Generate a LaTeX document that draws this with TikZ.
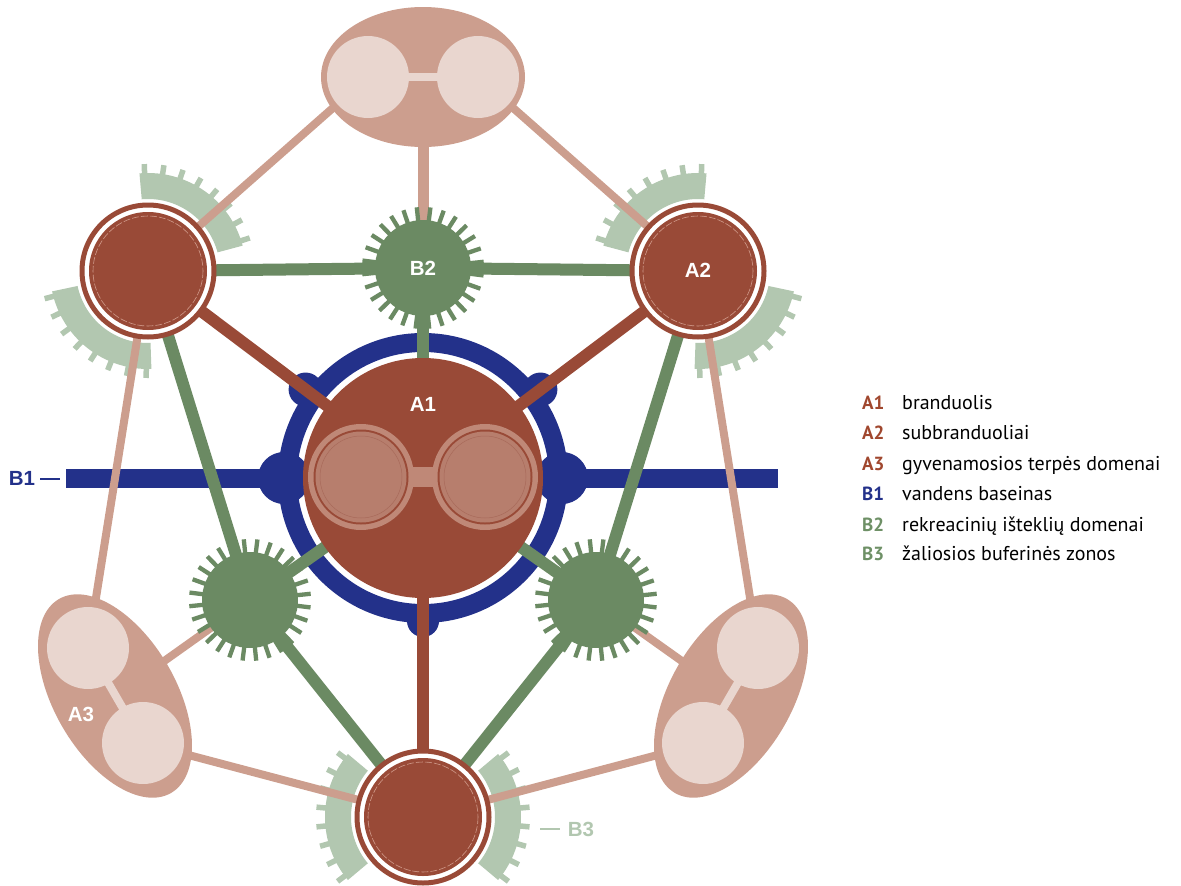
\documentclass[tikz,border=0pt]{standalone}
\usepackage{fontspec}
\setmainfont{Liberation Sans}
\newfontfamily\legfont{PT Sans}
\definecolor{brn}{HTML}{994A37}
\definecolor{pnk}{HTML}{CC9E8E}
\definecolor{lpnk}{HTML}{E9D6CF}
\definecolor{dgrn}{HTML}{6B8A63}
\definecolor{lgrn}{HTML}{B2C7B0}
\definecolor{nvy}{HTML}{23318A}
\definecolor{a1in}{HTML}{B77E6D}
\definecolor{a1ring}{HTML}{BF8877}
\definecolor{a1line}{HTML}{A86A5A}
\definecolor{dashc}{HTML}{D09A8A}
\definecolor{legA}{HTML}{A0472E}
\definecolor{legB}{HTML}{6E9066}
\newcommand\combarc[3]{%
  \fill[lgrn] (#1) ++(#2:72) arc[start angle=#2, end angle=#3, radius=72] -- ++(#3:26)
     arc[start angle=#3, end angle=#2, radius=98] -- cycle;
  \foreach \k in {0,...,7}{
    \draw[lgrn, line width=5.5] (#1) ++({#2+3+\k*(#3-#2-6)/7}:95) -- ++({#2+3+\k*(#3-#2-6)/7}:12);
  }}
\newcommand\gearat[1]{%
  \fill[dgrn] (#1) circle (48);
  \foreach \k in {0,...,27}{
    \draw[dgrn, line width=4.3] (#1) ++({\k*360/28+7}:44) -- ++({\k*360/28+7}:17);
  }}
\newcommand\subnode[1]{%
  \draw[brn, line width=5, fill=white] (#1) circle (66);
  \fill[brn] (#1) circle (59);
  \draw[dashc, line width=0.6, dash pattern=on 7pt off 2pt] (#1) circle (55);}
\newcommand\lens[1]{%
  \fill[a1ring] (#1) circle (53);
  \fill[brn] (#1) circle (47.5);
  \fill[a1in] (#1) circle (45.5);
  \draw[a1line, line width=0.5] (#1) circle (41);}
\tikzset{
  lbl/.style={text=white, font=\fontsize{20.5}{24}\selectfont\bfseries, inner sep=0pt},
  pinkln/.style={draw=pnk, line width=8},
  grnln/.style={draw=dgrn, line width=12},
  brnln/.style={draw=brn, line width=12},
  legcode/.style={font=\legfont\bfseries\fontsize{19}{22}\selectfont, anchor=base west, inner sep=0pt},
  legtxt/.style={font=\legfont\fontsize{20}{24}\selectfont, anchor=base west, inner sep=0pt, text=black},
}
\begin{document}
\begin{tikzpicture}[x=1pt,y=-1pt]
\useasboundingbox (0,0) rectangle (1181,886);
% key points
\coordinate (A1) at (423,478);
\coordinate (A2L) at (148,271);
\coordinate (A2R) at (698,271);
\coordinate (A2B) at (423,817);
\coordinate (B2) at (423,268);
\coordinate (GL) at (250,600);
\coordinate (GR) at (596,600);
\coordinate (TE) at (423,77);
\coordinate (TEl) at (368,77);
\coordinate (TEr) at (478,77);
\coordinate (A3L) at (115,696);
\coordinate (A3Lu) at (88,648);
\coordinate (A3Ld) at (143,743);
\coordinate (A3R) at (731,696);
\coordinate (A3Ru) at (758,648);
\coordinate (A3Rd) at (703,743);
\coordinate (B1L) at (66,478);
\coordinate (B1R) at (778,478);
\coordinate (lensL) at (361,477);
\coordinate (lensR) at (485,477);
% B3 buffer combs
\combarc{A2L}{-95}{-15}
\combarc{A2L}{88}{168}
\combarc{A2R}{195}{275}
\combarc{A2R}{12}{92}
\combarc{A2B}{140}{220}
\combarc{A2B}{-40}{40}
% B1 water
\draw[nvy, line width=19] (B1L) -- (B1R);
\draw[nvy, line width=19] (A1) circle (135.5);
\fill[nvy] (A1) ++(180:139) circle (26);
\fill[nvy] (A1) ++(0:139) circle (26);
\fill[nvy] (A1) ++(90:143) circle (16);
\fill[nvy] (A1) ++(-143:147) circle (17);
\fill[nvy] (A1) ++(-37:147) circle (17);
% pink links
\draw[pinkln] (TEl) -- (A2L);
\draw[pinkln] (TEr) -- (A2R);
\draw[pnk, line width=11] (TE) -- (B2);
\draw[pinkln] (A2L) -- (A3Lu);
\draw[pinkln] (A2R) -- (A3Ru);
\draw[pinkln] (GL) -- (A3L);
\draw[pinkln] (GR) -- (A3R);
\draw[pinkln] (A3Ld) -- (A2B);
\draw[pinkln] (A3Rd) -- (A2B);
% green links
\draw[grnln] (A2L) -- (B2) -- (A2R);
\draw[grnln] (B2) -- (A1);
\draw[grnln] (A2L) -- (GL) -- (A2B);
\draw[grnln] (A2R) -- (GR) -- (A2B);
\draw[grnln] (GL) -- (A1) -- (GR);
% brown links
\draw[brnln] (A2L) -- (A1) -- (A2R);
\draw[brnln] (A1) -- (A2B);
% A1 core
\fill[brn] (A1) circle (120);
\fill[a1ring] (405,467) rectangle (441,487);
\lens{lensL}
\lens{lensR}
% gears B2
\gearat{B2}
\gearat{GL}
\gearat{GR}
% sub-cores A2
\subnode{A2L}
\subnode{A2R}
\subnode{A2B}
% top domain
\fill[pnk] (TE) ellipse (102 and 70);
\draw[lpnk, line width=8] (TEl) -- (TEr);
\fill[lpnk] (TEl) circle (41);
\fill[lpnk] (TEr) circle (41);
% A3 domains
\fill[pnk, rotate around={-60:(A3L)}] (A3L) ellipse (112 and 61);
\fill[pnk, rotate around={60:(A3R)}] (A3R) ellipse (112 and 61);
\draw[lpnk, line width=8] (A3Lu) -- (A3Ld);
\draw[lpnk, line width=8] (A3Ru) -- (A3Rd);
\fill[lpnk] (A3Lu) circle (41);
\fill[lpnk] (A3Ld) circle (41);
\fill[lpnk] (A3Ru) circle (41);
\fill[lpnk] (A3Rd) circle (41);
% labels
\node[lbl] (tA1) at (423,404) {A1};
\node[lbl] (tA2) at (698,270) {A2};
\node[lbl] (tB2) at (423,268) {B2};
\node[lbl] (tA3) at (81,714) {A3};
\node[lbl, text=nvy] (tB1) at (22,478) {B1};
\coordinate (B1d1) at (40,479);
\coordinate (B1d2) at (60,479);
\draw[nvy, line width=1.3] (B1d1) -- (B1d2);
\node[lbl, text=lgrn] (tB3) at (581,829) {B3};
\coordinate (B3d1) at (540,829);
\coordinate (B3d2) at (560,829);
\draw[lgrn, line width=1.3] (B3d1) -- (B3d2);
% legend
\node[legcode, text=legA] (k1) at (862,409) {A1};
\node[legtxt] (l1) at (902,409) {branduolis};
\node[legcode, text=legA] (k2) at (862,439.5) {A2};
\node[legtxt] (l2) at (902,439.5) {subbranduoliai};
\node[legcode, text=legA] (k3) at (862,470) {A3};
\node[legtxt] (l3) at (902,470) {gyvenamosios terpės domenai};
\node[legcode, text=nvy] (k4) at (862,500) {B1};
\node[legtxt] (l4) at (902,500) {vandens baseinas};
\node[legcode, text=legB] (k5) at (862,531) {B2};
\node[legtxt] (l5) at (902,531) {rekreacinių išteklių domenai};
\node[legcode, text=legB] (k6) at (862,560) {B3};
\node[legtxt] (l6) at (902,560) {žaliosios buferinės zonos};
\end{tikzpicture}
\end{document}
